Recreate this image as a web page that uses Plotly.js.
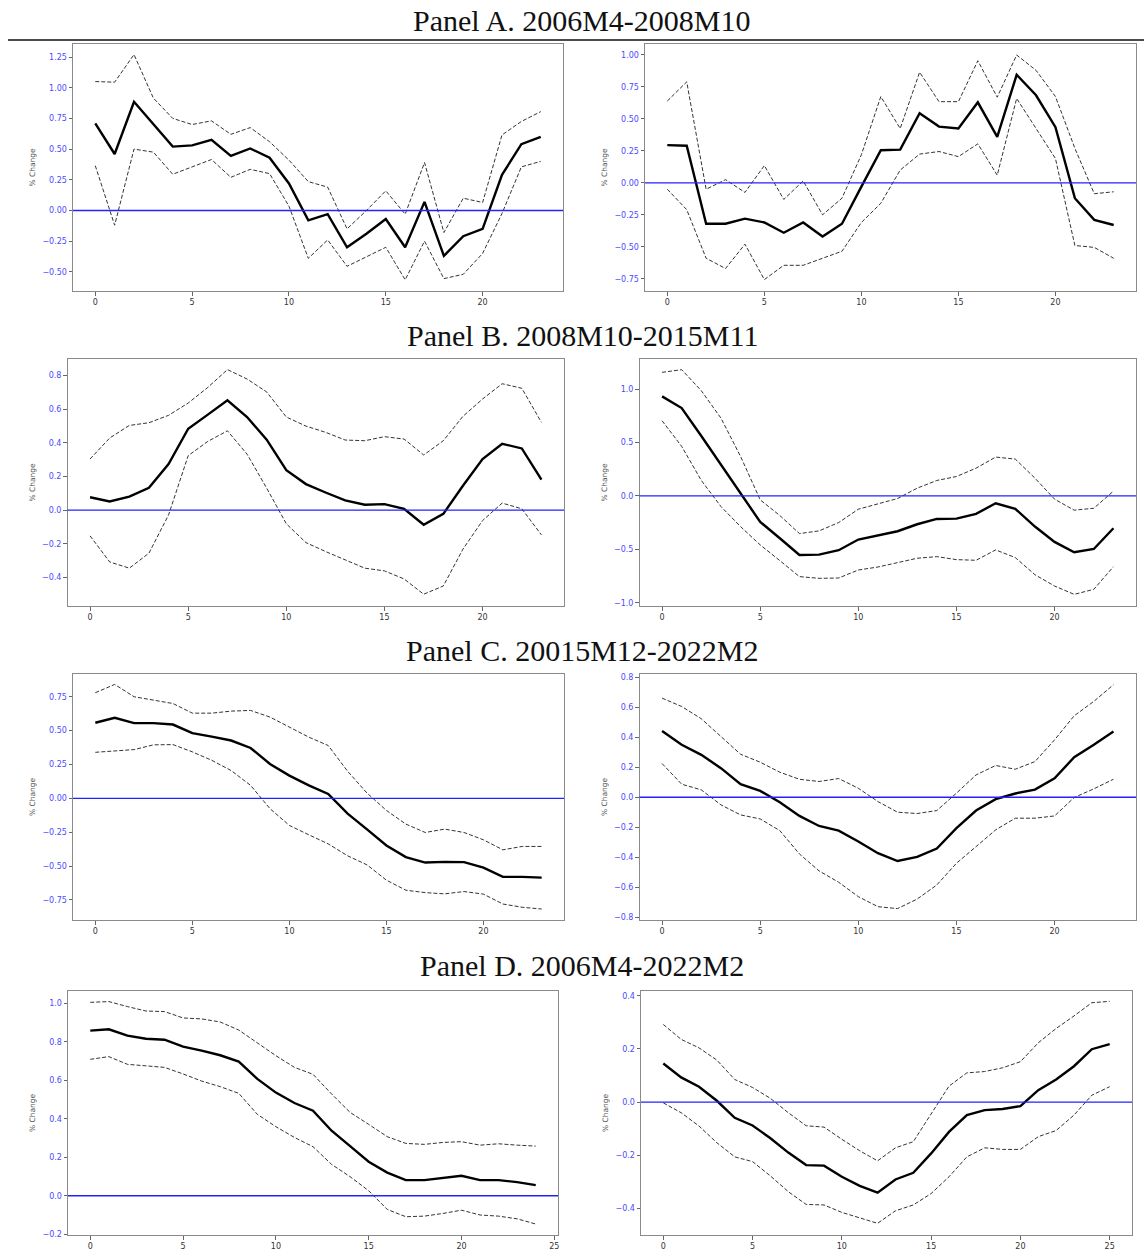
<!DOCTYPE html>
<html><head><meta charset="utf-8">
<script src="https://cdn.plot.ly/plotly-3.0.1.min.js"></script>
<style>html,body{margin:0;padding:0;background:#fff}#chart{width:1144px;height:1250px}</style>
</head><body><div id="chart"></div>
<script>
// ---------- Data ----------
const horizon24 = [0,1,2,3,4,5,6,7,8,9,10,11,12,13,14,15,16,17,18,19,20,21,22,23];
const horizon25 = [0,1,2,3,4,5,6,7,8,9,10,11,12,13,14,15,16,17,18,19,20,21,22,23,24];
const horizon26 = [0,1,2,3,4,5,6,7,8,9,10,11,12,13,14,15,16,17,18,19,20,21,22,23,24,25];

const panelTitles = ["Panel A. 2006M4-2008M10","Panel B. 2008M10-2015M11","Panel C. 20015M12-2022M2","Panel D. 2006M4-2022M2"];
const yAxisLabel = "% Change";

// Panel A, left
const aLeftMean  = [0.71,0.46,0.885,0.70,0.52,0.53,0.575,0.445,0.505,0.43,0.22,-0.08,-0.03,-0.30,-0.19,-0.07,-0.30,0.07,-0.37,-0.21,-0.15,0.29,0.54,0.60];
const aLeftUpper = [1.05,1.045,1.27,0.915,0.75,0.70,0.73,0.62,0.675,0.56,0.41,0.235,0.19,-0.15,0.0,0.16,-0.03,0.39,-0.18,0.10,0.065,0.615,0.725,0.805];
const aLeftLower = [0.365,-0.12,0.50,0.475,0.295,0.355,0.415,0.27,0.335,0.30,0.035,-0.39,-0.24,-0.455,-0.38,-0.30,-0.565,-0.25,-0.555,-0.52,-0.35,-0.025,0.355,0.40];
// Panel A, right
const aRightMean  = [0.295,0.29,-0.32,-0.32,-0.28,-0.31,-0.39,-0.31,-0.42,-0.32,-0.03,0.255,0.26,0.545,0.44,0.425,0.63,0.36,0.845,0.685,0.435,-0.12,-0.29,-0.33];
const aRightUpper = [0.64,0.79,-0.05,0.025,-0.075,0.135,-0.13,0.015,-0.25,-0.12,0.22,0.675,0.425,0.865,0.635,0.635,0.955,0.67,1.00,0.88,0.675,0.27,-0.085,-0.07];
const aRightLower = [-0.05,-0.21,-0.59,-0.67,-0.48,-0.757,-0.645,-0.645,-0.59,-0.535,-0.31,-0.16,0.10,0.225,0.245,0.205,0.305,0.06,0.66,0.43,0.19,-0.49,-0.505,-0.59];
// Panel B, left
const bLeftMean  = [0.077,0.052,0.081,0.133,0.274,0.484,0.568,0.653,0.554,0.419,0.238,0.155,0.105,0.058,0.032,0.036,0.008,-0.087,-0.022,0.145,0.304,0.395,0.367,0.181];
const bLeftUpper = [0.304,0.429,0.504,0.52,0.564,0.637,0.73,0.836,0.78,0.703,0.554,0.50,0.463,0.417,0.413,0.437,0.423,0.328,0.413,0.558,0.661,0.752,0.725,0.522];
const bLeftLower = [-0.153,-0.308,-0.345,-0.256,-0.028,0.324,0.409,0.472,0.333,0.131,-0.081,-0.193,-0.246,-0.296,-0.345,-0.361,-0.409,-0.50,-0.451,-0.232,-0.062,0.042,0.008,-0.147];
// Panel B, right
const bRightMean  = [0.931,0.822,0.56,0.29,0.02,-0.244,-0.397,-0.553,-0.55,-0.509,-0.409,-0.372,-0.331,-0.266,-0.216,-0.213,-0.169,-0.069,-0.122,-0.287,-0.431,-0.528,-0.497,-0.303];
const bRightUpper = [1.156,1.181,0.984,0.728,0.369,-0.037,-0.184,-0.353,-0.328,-0.25,-0.125,-0.075,-0.025,0.072,0.144,0.181,0.259,0.363,0.344,0.166,-0.031,-0.134,-0.116,0.044];
const bRightLower = [0.703,0.463,0.144,-0.10,-0.288,-0.459,-0.606,-0.756,-0.772,-0.769,-0.694,-0.666,-0.625,-0.584,-0.569,-0.597,-0.603,-0.506,-0.578,-0.738,-0.844,-0.922,-0.875,-0.663];
// Panel C, left
const cLeftMean  = [0.558,0.595,0.555,0.555,0.545,0.481,0.456,0.427,0.372,0.254,0.168,0.096,0.032,-0.113,-0.229,-0.348,-0.434,-0.474,-0.469,-0.471,-0.511,-0.58,-0.58,-0.585];
const cLeftUpper = [0.78,0.841,0.75,0.723,0.70,0.629,0.629,0.644,0.649,0.60,0.526,0.452,0.39,0.20,0.039,-0.089,-0.19,-0.252,-0.227,-0.252,-0.306,-0.38,-0.355,-0.355];
const cLeftLower = [0.34,0.348,0.36,0.395,0.397,0.343,0.281,0.205,0.096,-0.076,-0.20,-0.269,-0.336,-0.424,-0.491,-0.604,-0.678,-0.696,-0.705,-0.688,-0.707,-0.78,-0.804,-0.817];
// Panel C, right
const cRightMean  = [0.443,0.35,0.283,0.194,0.087,0.042,-0.033,-0.125,-0.192,-0.223,-0.296,-0.374,-0.426,-0.399,-0.343,-0.207,-0.089,-0.013,0.025,0.051,0.127,0.267,0.35,0.439];
const cRightUpper = [0.662,0.606,0.524,0.406,0.287,0.234,0.167,0.12,0.105,0.125,0.06,-0.029,-0.10,-0.109,-0.089,0.027,0.149,0.212,0.187,0.238,0.383,0.544,0.64,0.751];
const cRightLower = [0.225,0.087,0.049,-0.051,-0.118,-0.145,-0.223,-0.379,-0.492,-0.568,-0.664,-0.731,-0.744,-0.68,-0.586,-0.441,-0.33,-0.218,-0.14,-0.14,-0.125,-0.002,0.056,0.12];
// Panel D, left
const dLeftMean  = [0.858,0.865,0.832,0.816,0.811,0.775,0.754,0.73,0.697,0.607,0.536,0.482,0.442,0.338,0.258,0.177,0.12,0.081,0.081,0.094,0.104,0.081,0.081,0.071,0.055];
const dLeftUpper = [1.005,1.009,0.983,0.96,0.957,0.924,0.919,0.903,0.861,0.795,0.728,0.667,0.631,0.529,0.433,0.371,0.307,0.272,0.267,0.277,0.281,0.263,0.27,0.263,0.258];
const dLeftLower = [0.709,0.723,0.683,0.674,0.667,0.633,0.596,0.567,0.532,0.423,0.359,0.303,0.255,0.163,0.099,0.026,-0.071,-0.109,-0.106,-0.092,-0.075,-0.10,-0.106,-0.12,-0.147];
// Panel D, right
const dRightMean  = [0.145,0.093,0.058,0.005,-0.059,-0.088,-0.136,-0.19,-0.237,-0.239,-0.281,-0.315,-0.341,-0.291,-0.266,-0.193,-0.112,-0.049,-0.03,-0.026,-0.015,0.045,0.085,0.135,0.199,0.218];
const dRightUpper = [0.292,0.236,0.204,0.158,0.085,0.055,0.014,-0.04,-0.089,-0.094,-0.14,-0.183,-0.221,-0.172,-0.149,-0.043,0.06,0.11,0.115,0.129,0.152,0.223,0.277,0.324,0.374,0.379];
const dRightLower = [-0.003,-0.04,-0.09,-0.153,-0.206,-0.224,-0.278,-0.337,-0.385,-0.387,-0.415,-0.435,-0.456,-0.409,-0.387,-0.344,-0.281,-0.206,-0.172,-0.178,-0.178,-0.13,-0.107,-0.049,0.026,0.058];

// ---------- Layout helpers ----------
const W = 1144, H = 1250;
const px = v => v / W;
const py = v => 1 - v / H;

const panels = [
  {x: horizon24, m: aLeftMean,  u: aLeftUpper,  l: aLeftLower,  dx:[73,563],   dy:[44,291],  xr:[-1.15,24.15], yr:[-0.656,1.356], dt:0.25, fmt:'.2f'},
  {x: horizon24, m: aRightMean, u: aRightUpper, l: aRightLower, dx:[645,1136], dy:[44,291],  xr:[-1.15,24.15], yr:[-0.846,1.086], dt:0.25, fmt:'.2f'},
  {x: horizon24, m: bLeftMean,  u: bLeftUpper,  l: bLeftLower,  dx:[67.5,564], dy:[359,606], xr:[-1.15,24.15], yr:[-0.57,0.899],  dt:0.2,  fmt:'.1f'},
  {x: horizon24, m: bRightMean, u: bRightUpper, l: bRightLower, dx:[639.5,1136],dy:[359,606],xr:[-1.15,24.15], yr:[-1.031,1.281], dt:0.5,  fmt:'.1f'},
  {x: horizon24, m: cLeftMean,  u: cLeftUpper,  l: cLeftLower,  dx:[73,564],   dy:[674,920], xr:[-1.15,24.15], yr:[-0.898,0.918], dt:0.25, fmt:'.2f'},
  {x: horizon24, m: cRightMean, u: cRightUpper, l: cRightLower, dx:[639.5,1136],dy:[674,920],xr:[-1.15,24.15], yr:[-0.82,0.823],  dt:0.2,  fmt:'.1f'},
  {x: horizon25, m: dLeftMean,  u: dLeftUpper,  l: dLeftLower,  dx:[68,558],   dy:[991,1235],xr:[-1.2,25.2],   yr:[-0.204,1.064], dt:0.2,  fmt:'.1f'},
  {x: horizon26, m: dRightMean, u: dRightUpper, l: dRightLower, dx:[641,1132], dy:[991,1235],xr:[-1.25,26.25], yr:[-0.50,0.418],  dt:0.2,  fmt:'.1f'}
];

const traces = [];
const layout = {
  width: W, height: H,
  margin: {l:0, r:0, t:0, b:0},
  paper_bgcolor: '#fff', plot_bgcolor: '#fff',
  showlegend: false,
  shapes: [],
  annotations: []
};

panels.forEach((p, i) => {
  const n = i + 1;
  const xa = 'x' + n, ya = 'y' + n;
  const dashed = {color:'#333', width:1, dash:'4px,2px'};
  traces.push({x:p.x, y:p.u, xaxis:xa, yaxis:ya, mode:'lines', line:dashed, hoverinfo:'skip'});
  traces.push({x:p.x, y:p.l, xaxis:xa, yaxis:ya, mode:'lines', line:dashed, hoverinfo:'skip'});
  traces.push({x:p.x, y:p.m, xaxis:xa, yaxis:ya, mode:'lines', line:{color:'#000', width:2.4}});

  const axCommon = {
    showgrid:false, zeroline:false, showline:true, mirror:true,
    linecolor:'#8a8a8a', linewidth:1,
    ticks:'outside', ticklen:3.5, tickwidth:1, tickcolor:'#666',
    automargin:false, fixedrange:true
  };
  layout['xaxis' + (n===1?'':n)] = Object.assign({}, axCommon, {
    domain:[px(p.dx[0]), px(p.dx[1])], range:p.xr, anchor:ya,
    tick0:0, dtick:5, tickfont:{family:'DejaVu Sans', size:8, color:'#333'}
  });
  layout['yaxis' + (n===1?'':n)] = Object.assign({}, axCommon, {
    domain:[py(p.dy[1]), py(p.dy[0])], range:p.yr, anchor:xa,
    tick0:0, dtick:p.dt, tickformat:p.fmt,
    tickfont:{family:'DejaVu Sans', size:8, color:'#4a4aff'},
    title:{text:yAxisLabel, font:{family:'DejaVu Sans', size:7.5, color:'#555'}, standoff:5}
  });
  layout.shapes.push({type:'line', xref:xa + ' domain', x0:0, x1:1, yref:ya, y0:0, y1:0,
    line:{color:'#2222ff', width:1.4}});
});

// rule under first panel title
layout.shapes.push({type:'line', xref:'paper', yref:'paper', x0:px(8), x1:1, y0:py(40), y1:py(40),
  line:{color:'#111', width:1.5}});

const titleY = [20, 336, 650, 965];
panelTitles.forEach((t, i) => {
  layout.annotations.push({text:t, xref:'paper', yref:'paper', x:px(582), y:py(titleY[i]),
    xanchor:'center', yanchor:'middle', showarrow:false,
    font:{family:'Liberation Serif', size:30, color:'#111'}});
});

Plotly.newPlot('chart', traces, layout, {displayModeBar:false, staticPlot:true});
</script>
</body></html>
